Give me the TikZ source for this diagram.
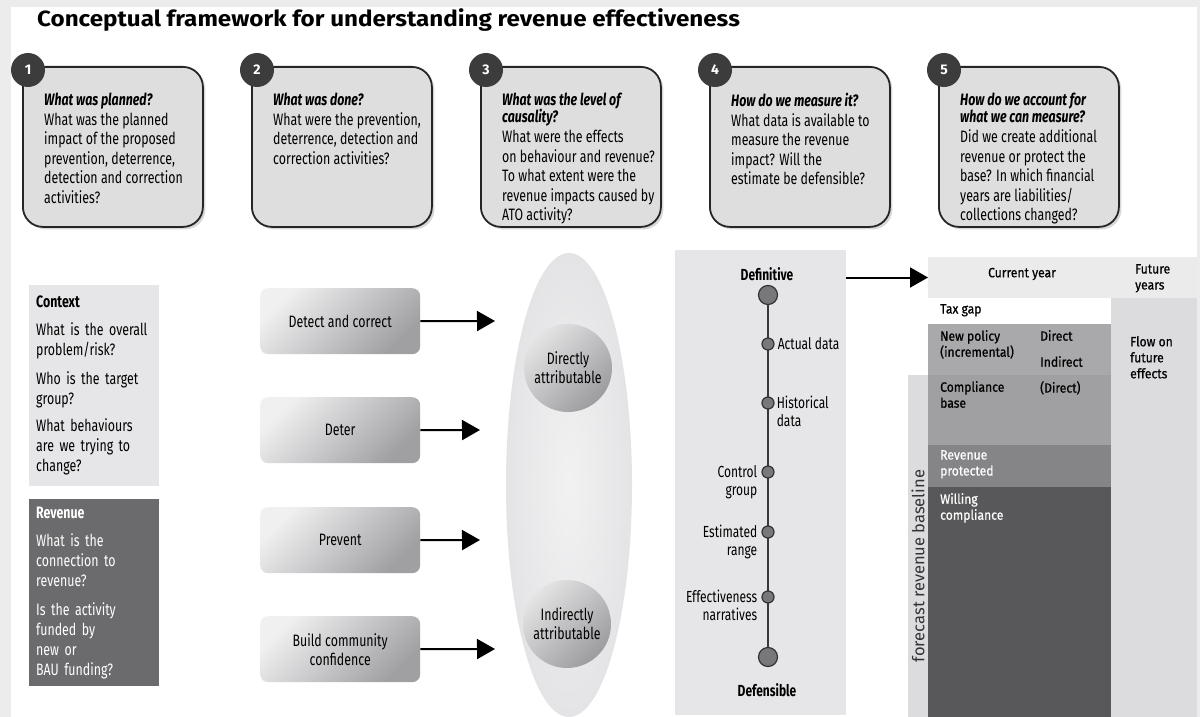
\documentclass[tikz,border=0pt]{standalone}
\usepackage{fontspec}
\setmainfont{Fira Sans}[FakeStretch=0.75]
\newfontfamily\titlefont{Fira Sans}
\newfontfamily\headfont{Fira Sans}[FakeStretch=1.1]
\newfontfamily\chartfont{Fira Sans}[FakeStretch=0.9,FakeBold=0.6]
\usetikzlibrary{arrows.meta,shapes.geometric,shadows,positioning}

\definecolor{pagegray}{HTML}{ECECEC}
\definecolor{qgray}{HTML}{DEDEDF}
\definecolor{numgray}{HTML}{3C3C3C}
\definecolor{ctxgray}{HTML}{E6E6E8}
\definecolor{revgray}{HTML}{6B6B6E}
\definecolor{actlight}{HTML}{F0F0F1}
\definecolor{actdark}{HTML}{A0A0A3}
\definecolor{ellgray}{HTML}{E4E4E6}
\definecolor{circlight}{HTML}{E4E4E5}
\definecolor{circdark}{HTML}{9C9C9F}
\definecolor{dotgray}{HTML}{78787B}
\definecolor{hdrgray}{HTML}{EBEBEB}
\definecolor{futgray}{HTML}{DCDCDE}
\definecolor{polgray}{HTML}{A9A9AB}
\definecolor{basegray}{HTML}{A0A0A2}
\definecolor{protgray}{HTML}{858587}
\definecolor{willgray}{HTML}{58585A}

\newcommand{\qhd}[1]{\textbf{\textit{#1}}}

\begin{document}
\begin{tikzpicture}[x=1pt,y=-1pt,
    qbox/.style={draw=black!85,line width=1.8pt,fill=qgray,rounded corners=20pt,
        minimum width=180pt,minimum height=160pt,anchor=north west,inner sep=0pt,
        drop shadow={shadow xshift=2.5pt,shadow yshift=-2.5pt,opacity=0.3}},
    qnum/.style={circle,fill=numgray,minimum size=34pt,inner sep=0pt,text=white,
        font=\titlefont\bfseries\fontsize{14}{14}\selectfont},
    qtext/.style={anchor=north west,align=left,inner sep=0pt,font=\fontsize{16.5}{19.5}\selectfont},
    ctxbox/.style={anchor=north west,minimum width=130pt,text width=116pt,inner xsep=7pt,
        align=left,font=\fontsize{16.5}{20}\selectfont},
    actbox/.style={anchor=north west,minimum width=160pt,minimum height=66pt,rounded corners=8pt,
        top color=actlight,bottom color=actdark,shading angle=45,align=center,
        font=\fontsize{16.5}{19}\selectfont},
    attrcirc/.style={circle,minimum size=88pt,inner sep=0pt,top color=circlight,
        bottom color=circdark,shading angle=45,align=center,font=\fontsize{16.5}{19}\selectfont},
    bigarrow/.style={line width=2pt,-{Triangle[length=18pt,width=20pt]}},
    scaledot/.style={circle,minimum size=12pt,inner sep=0pt,fill=dotgray,draw=black!80,line width=1.2pt},
    scalebig/.style={scaledot,minimum size=19pt},
    scalelbl/.style={inner sep=0pt,font=\fontsize{16}{18}\selectfont},
    chartrow/.style={anchor=north west,minimum width=183pt,inner sep=0pt,outer sep=0pt},
    chartlbl/.style={anchor=north west,align=left,inner sep=0pt,
        font=\chartfont\fontsize{13.5}{16}\selectfont}]
    \useasboundingbox (0,0) rectangle (1200,717);
    %% Background
    \fill[pagegray] (0,0) rectangle (1200,717);
    \fill[white] (11,7) rectangle (1197,717);
    %% Title
    \node[anchor=base west,inner sep=0pt,font=\headfont\bfseries\fontsize{22}{24}\selectfont] (title) at (37,27)
        {Conceptual framework for understanding revenue effectiveness};
    %% Question boxes
    \foreach \i/\x in {1/22,2/251,3/480,4/709,5/938} {
        \node[qbox] (q\i) at (\x,66) {};
        \node[qnum] (n\i) at ([shift={(6,4)}]q\i.north west) {\i};
    }
    \node[qtext] (t1) at ([shift={(22,27)}]q1.north west) {\qhd{What was planned?}\\[0pt]
        What was the planned\\ impact of the proposed\\ prevention, deterrence,\\
        detection and correction\\ activities?};
    \node[qtext] (t2) at ([shift={(22,27)}]q2.north west) {\qhd{What was done?}\\[0pt]
        What were the prevention,\\ deterrence, detection and\\ correction activities?};
    \node[qtext] (t3) at ([shift={(22,27)}]q3.north west) {\qhd{What was the level of}\\[-3pt]
        \qhd{causality?}\\[1pt] What were the effects\\ on behaviour and revenue?\\
        To what extent were the\\ revenue impacts caused by\\ ATO activity?};
    \node[qtext] (t4) at ([shift={(22,27)}]q4.north west) {\qhd{How do we measure it?}\\[0pt]
        What data is available to\\ measure the revenue\\ impact? Will the\\ estimate be defensible?};
    \node[qtext] (t5) at ([shift={(22,27)}]q5.north west) {\qhd{How do we account for}\\[-3pt]
        \qhd{what we can measure?}\\[1pt] Did we create additional\\ revenue or protect the\\
        base? In which financial\\ years are liabilities/\\ collections changed?};
    %% Context and revenue
    \node[ctxbox,fill=ctxgray,minimum height=201pt] (ctx) at (29,285) {\textbf{Context}\\[8pt]
        What is the overall\\ problem/risk?\\[9pt] Who is the target\\ group?\\[7pt]
        What behaviours\\ are we trying to\\ change?};
    \node[ctxbox,fill=revgray,text=white,minimum height=187pt] (rev) at (29,499) {\textbf{Revenue}\\[8pt]
        What is the\\ connection to\\ revenue?\\[9pt] Is the activity\\ funded by\\ new or\\ BAU funding?};
    %% Activities
    \node[actbox] (detect) at (260,288) {Detect and correct};
    \node[actbox] (deter) at (260,397) {Deter};
    \node[actbox] (prevent) at (260,507) {Prevent};
    \node[actbox] (build) at (260,616) {Build community\\ confidence};
    \coordinate (da) at (495,321);
    \coordinate (dd) at (480,430);
    \coordinate (dp) at (480,540);
    \coordinate (db) at (495,649);
    \draw[bigarrow] (detect.east) -- (da);
    \draw[bigarrow] (deter.east) -- (dd);
    \draw[bigarrow] (prevent.east) -- (dp);
    \draw[bigarrow] (build.east) -- (db);
    %% Attribution
    \node[ellipse,inner color=ellgray!50,outer color=ellgray,minimum width=126pt,minimum height=464pt,inner sep=0pt] (attr) at (569,485) {};
    \node[attrcirc] (direct) at (568,368) {Directly\\ attributable};
    \node[attrcirc] (indirect) at (567,624) {Indirectly\\ attributable};
    %% Measurement scale
    \node[fill=ctxgray,minimum width=171pt,minimum height=465pt,anchor=north west,inner sep=0pt] (scale) at (675,250) {};
    \node[scalelbl,font=\bfseries\fontsize{16}{18}\selectfont] (defi) at (767,274) {Definitive};
    \node[scalelbl,font=\bfseries\fontsize{16}{18}\selectfont] (defe) at (767,690) {Defensible};
    \node[scalebig] (top) at (768,295) {};
    \node[scalebig] (bot) at (768,657) {};
    \draw[line width=2.5pt,black!78] (top) -- (bot);
    \node[scaledot] (s1) at (768,344) {};
    \node[scaledot] (s2) at (768,403) {};
    \node[scaledot] (s3) at (768,472) {};
    \node[scaledot] (s4) at (768,532) {};
    \node[scaledot] (s5) at (768,597) {};
    \node[scalelbl,anchor=west] (l1) at ([xshift=3pt]s1.east) {Actual data};
    \node[scalelbl,anchor=north west,align=left] (l2) at ([xshift=2pt,yshift=7pt]s2.east) {Historical\\ data};
    \node[scalelbl,anchor=north east,align=right] (l3) at ([xshift=-4pt,yshift=7pt]s3.west) {Control\\ group};
    \node[scalelbl,anchor=north east,align=right] (l4) at ([xshift=-4pt,yshift=7pt]s4.west) {Estimated\\ range};
    \node[scalelbl,anchor=north east,align=right] (l5) at ([xshift=-4pt,yshift=7pt]s5.west) {Effectiveness\\ narratives};
    %% Revenue chart
    \node[chartrow,fill=hdrgray,minimum width=269pt,minimum height=41pt] (hdr) at (928,257) {};
    \node[chartrow,fill=futgray,minimum width=86pt,minimum height=419pt] (future) at (1111,298) {};
    \node[chartrow,fill=futgray,minimum width=20pt,minimum height=342pt] (fband) at (908,375) {};
    \node[chartrow,fill=white,minimum height=26pt] (taxgap) at (928,298) {};
    \node[chartrow,fill=polgray,minimum height=51pt] (newpol) at (928,324) {};
    \node[chartrow,fill=basegray,minimum height=70pt] (compbase) at (928,375) {};
    \node[chartrow,fill=protgray,minimum height=42pt] (revprot) at (928,445) {};
    \node[chartrow,fill=willgray,minimum height=230pt] (willing) at (928,487) {};
    \draw[bigarrow] (scale.east |- hdr.west) -- (hdr.west);
    \node[chartlbl,anchor=center] (cur) at (1022,274) {Current year};
    \node[chartlbl] (fut) at ([shift={(207,7)}]hdr.north west) {Future\\ years};
    \node[chartlbl] (lt) at ([shift={(12,6)}]taxgap.north west) {Tax gap};
    \node[chartlbl] (lp) at ([shift={(12,6)}]newpol.north west) {New policy\\ (incremental)};
    \node[chartlbl] (ld) at ([shift={(112,6)}]newpol.north west) {Direct};
    \node[chartlbl] (li) at ([shift={(112,32)}]newpol.north west) {Indirect};
    \node[chartlbl] (lc) at ([shift={(12,6)}]compbase.north west) {Compliance\\ base};
    \node[chartlbl] (lcd) at ([shift={(112,6)}]compbase.north west) {(Direct)};
    \node[chartlbl,text=white] (lr) at ([shift={(12,5)}]revprot.north west) {Revenue\\ protected};
    \node[chartlbl,text=white] (lw) at ([shift={(12,6)}]willing.north west) {Willing\\ compliance};
    \node[chartlbl] (lf) at ([shift={(19,38)}]future.north west) {Flow on\\ future\\ effects};
    \node[rotate=90,inner sep=0pt,text=black!80,font=\titlefont\fontsize{16.5}{18}\selectfont] (fcast) at (918,566) {forecast revenue baseline};
\end{tikzpicture}
\end{document}
